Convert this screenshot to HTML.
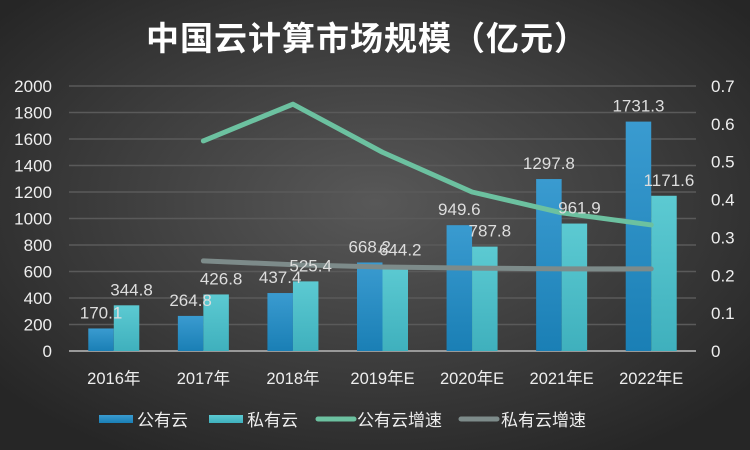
<!DOCTYPE html>
<html><head><meta charset="utf-8"><style>
body{margin:0;width:750px;height:450px;overflow:hidden;background:#2a2a2a}
svg{display:block;font-family:"Liberation Sans","Noto Sans CJK SC",sans-serif}
</style></head><body>
<svg id="c" width="750" height="450">
<defs>
<radialGradient id="bg" cx="50%" cy="45%" r="65%"><stop offset="0" stop-color="#585858"/><stop offset="1" stop-color="#262626"/></radialGradient>
<linearGradient id="gb" x1="0" y1="0" x2="0" y2="1"><stop offset="0" stop-color="#3a9bd0"/><stop offset="1" stop-color="#1a7fb5"/></linearGradient>
<linearGradient id="gp" x1="0" y1="0" x2="0" y2="1"><stop offset="0" stop-color="#5ccad2"/><stop offset="1" stop-color="#3fb0bd"/></linearGradient>
</defs>
<rect width="750" height="450" fill="url(#bg)"/>
<text x="367" y="50" text-anchor="middle" fill="#fff" font-size="33" font-weight="bold" letter-spacing="1">中国云计算市场规模（亿元）</text>
<g id="grid"></g><g id="bars"></g><g id="lines"></g><g id="labels"></g>
<g>
<rect x="99" y="415" width="34" height="8" fill="url(#gb)"/>
<text x="137" y="426" fill="#eee" font-size="17">公有云</text>
<rect x="209" y="415" width="34" height="8" fill="url(#gp)"/>
<text x="247" y="426" fill="#eee" font-size="17">私有云</text>
<line x1="318" y1="419" x2="354" y2="419" stroke="#6cc1a0" stroke-width="5" stroke-linecap="round"/>
<text x="357" y="426" fill="#eee" font-size="17">公有云增速</text>
<line x1="461" y1="419" x2="497" y2="419" stroke="#7d8b8a" stroke-width="5" stroke-linecap="round"/>
<text x="501" y="426" fill="#eee" font-size="17">私有云增速</text>
</g>
</svg>
<script>
const categories=["2016年","2017年","2018年","2019年E","2020年E","2021年E","2022年E"];
const publicCloud=[170.1,264.8,437.4,668.2,949.6,1297.8,1731.3];
const privateCloud=[344.8,426.8,525.4,644.2,787.8,961.9,1171.6];
const publicGrowth=[null,0.555,0.652,0.525,0.42,0.365,0.333];
const privateGrowth=[null,0.238,0.228,0.222,0.219,0.217,0.217];
const leftTicks=[0,200,400,600,800,1000,1200,1400,1600,1800,2000];
const rightTicks=[0,0.1,0.2,0.3,0.4,0.5,0.6,0.7];
const NS="http://www.w3.org/2000/svg";
const X0=69,X1=696,Y0=351,Y1=86;
const step=(X1-X0)/categories.length;
const xc=i=>X0+step*(i+0.5);
const yl=v=>Y0-(v/2000)*(Y0-Y1);
const yr=v=>Y0-(v/0.7)*(Y0-Y1);
function mk(tag,attrs,parent,txt){const e=document.createElementNS(NS,tag);for(const k in attrs)e.setAttribute(k,attrs[k]);if(txt!=null)e.textContent=txt;document.getElementById(parent).appendChild(e);return e;}
leftTicks.forEach(t=>{
 const l=mk('line',{x1:X0,x2:X1,y1:yl(t),y2:yl(t),stroke:t===0?'#999':'#5a5a5a','stroke-width':t===0?2:1.5},'grid');
 
 
 const s=mk('text',{x:52,y:yl(t)+6,'text-anchor':'end',fill:'#eee','font-size':17},'grid',t);
 
 
});
rightTicks.forEach(t=>{
 const s=mk('text',{x:711,y:yr(t)+6,fill:'#eee','font-size':17},'grid',t===0?'0':t.toFixed(1));
 
 
});
categories.forEach((c,i)=>{
 const s=mk('text',{x:xc(i),y:384,'text-anchor':'middle',fill:'#eee','font-size':16.5},'grid',c);
 
 
});
const bw=25.5;
categories.forEach((c,i)=>{
 const a=mk('rect',{x:xc(i)-bw,y:yl(publicCloud[i]),width:bw,height:Y0-yl(publicCloud[i]),fill:'url(#gb)'},'bars');
 
 
 const b=mk('rect',{x:xc(i),y:yl(privateCloud[i]),width:bw,height:Y0-yl(privateCloud[i]),fill:'url(#gp)'},'bars');
 
 
 const la=mk('text',{x:xc(i)-bw/2,y:yl(publicCloud[i])-10,'text-anchor':'middle',fill:'#ddd','font-size':17},'labels',publicCloud[i]);
 
 
 const lb=mk('text',{x:xc(i)+bw/2+5,y:yl(privateCloud[i])-10,'text-anchor':'middle',fill:'#ddd','font-size':17},'labels',privateCloud[i]);
 
 
});
function line(arr,color,name){
 const pts=arr.map((v,i)=>v==null?null:xc(i)+','+yr(v)).filter(Boolean).join(' ');
 const p=mk('polyline',{points:pts,fill:'none',stroke:color,'stroke-width':5,'stroke-linecap':'round','stroke-linejoin':'round'},'lines');
 
 
}
line(privateGrowth,'#7d8b8a','line-private-growth');
line(publicGrowth,'#6cc1a0','line-public-growth');
</script>
</body></html>
